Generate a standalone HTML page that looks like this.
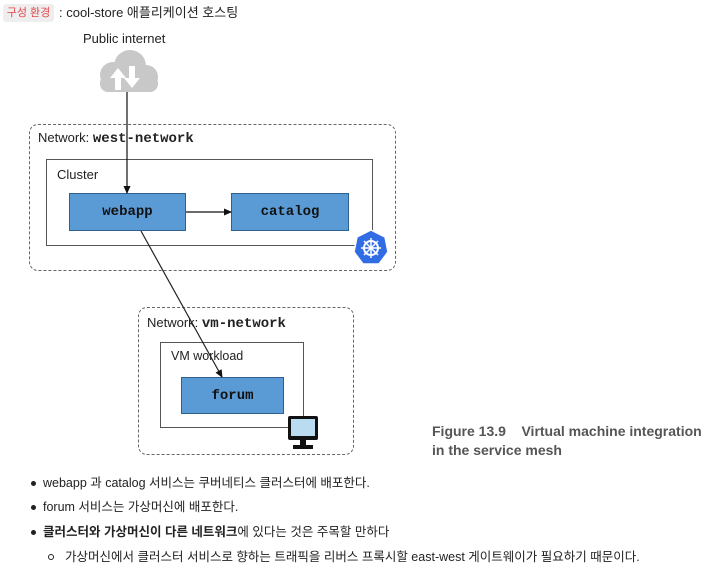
<!DOCTYPE html>
<html><head><meta charset="utf-8"><style>
body{margin:0;width:723px;height:586px;background:#fff;position:relative;overflow:hidden;font-family:"Liberation Sans","Noto Sans CJK KR",sans-serif;color:#222}
.a{position:absolute;white-space:nowrap}
.mono{font-family:"Liberation Mono",monospace;font-weight:bold}
.box{position:absolute;box-sizing:border-box}
.blue{position:absolute;box-sizing:border-box;background:#5b9bd5;border:1.5px solid #2f5f8f;display:flex;align-items:center;justify-content:center;font-family:"Liberation Mono",monospace;font-weight:bold;font-size:14px;color:#111}
.dot{position:absolute;width:5px;height:5px;border-radius:50%;background:#222}
</style></head><body>
<div class="a" style="left:3px;top:4px;width:51px;height:18px;background:#eee;border-radius:3px;color:#e5484d;font-size:11px;line-height:18px;text-align:center">구성 환경</div>
<div class="a" style="left:59px;top:4px;font-size:13px;line-height:18px">: cool-store 애플리케이션 호스팅</div>
<div class="a" style="left:83px;top:31px;font-size:13px">Public internet</div>

<div class="box" style="left:29px;top:124px;width:367px;height:147px;border:1.5px dashed #666;border-radius:9px"></div>
<div class="a" style="left:38px;top:130px;font-size:13px">Network: <span class="mono" style="font-size:14px">west-network</span></div>
<div class="box" style="left:46px;top:159px;width:327px;height:87px;border:1.5px solid #555"></div>
<div class="a" style="left:57px;top:167px;font-size:13px">Cluster</div>
<div class="blue" style="left:69px;top:193px;width:117px;height:38px">webapp</div>
<div class="blue" style="left:231px;top:193px;width:118px;height:38px">catalog</div>

<div class="box" style="left:138px;top:307px;width:216px;height:148px;border:1.5px dashed #666;border-radius:9px"></div>
<div class="a" style="left:147px;top:315px;font-size:13px">Network: <span class="mono" style="font-size:14px">vm-network</span></div>
<div class="box" style="left:160px;top:342px;width:144px;height:86px;border:1.5px solid #555"></div>
<div class="a" style="left:171px;top:349px;font-size:12.5px">VM workload</div>
<div class="blue" style="left:181px;top:377px;width:103px;height:37px">forum</div>

<svg class="a" style="left:0;top:0" width="723" height="470">
<defs><marker id="m" markerWidth="8" markerHeight="8" refX="7" refY="4" orient="auto" markerUnits="userSpaceOnUse"><path d="M0,0.5 L8,4 L0,7.5z" fill="#111"/></marker></defs>
<g fill="#c8c8c8"><circle cx="113" cy="75" r="13"/><circle cx="130" cy="66" r="16"/><circle cx="146" cy="77" r="12"/><rect x="100" y="75" width="58" height="17" rx="8"/></g>
<path d="M115,90 v-12 h-5 l8,-10 l8,10 h-5 v12z" fill="#fff"/>
<path d="M129,66 v12 h-5 l8,10 l8,-10 h-5 v-12z" fill="#fff"/>
<line x1="127" y1="92" x2="127" y2="193" stroke="#111" stroke-width="1.2" marker-end="url(#m)"/>
<line x1="186" y1="212" x2="231" y2="212" stroke="#111" stroke-width="1.2" marker-end="url(#m)"/>
<line x1="141" y1="231" x2="222" y2="377" stroke="#222" stroke-width="1.2" marker-end="url(#m)"/>
<polygon points="371,230 385,237 388,252 379,264 363,264 354,252 357,237" fill="#326ce5" stroke="#fff" stroke-width="1.5"/>
<circle cx="371" cy="248" r="7" fill="none" stroke="#fff" stroke-width="2"/>
<g stroke="#fff" stroke-width="1.5"><line x1="371" y1="238" x2="371" y2="258"/><line x1="361" y1="248" x2="381" y2="248"/><line x1="364" y1="241" x2="378" y2="255"/><line x1="378" y1="241" x2="364" y2="255"/></g>
<rect x="288" y="416" width="30" height="24" rx="2" fill="#111"/>
<rect x="291" y="419" width="24" height="17" fill="#b9dcf0"/>
<rect x="300" y="440" width="6" height="5" fill="#111"/>
<rect x="293" y="445" width="20" height="4" fill="#111"/>
</svg>

<div class="a" style="left:432px;top:422px;font-size:14px;font-weight:bold;color:#555;line-height:19px;font-family:'Liberation Sans',sans-serif">Figure 13.9&nbsp;&nbsp;&nbsp; Virtual machine integration<br>in the service mesh</div>

<div class="dot" style="left:31px;top:481px"></div>
<div class="a" style="left:43px;top:474px;font-size:12.5px;line-height:18px">webapp 과 catalog 서비스는 쿠버네티스 클러스터에 배포한다.</div>
<div class="dot" style="left:31px;top:505px"></div>
<div class="a" style="left:43px;top:498px;font-size:12.5px;line-height:18px">forum 서비스는 가상머신에 배포한다.</div>
<div class="dot" style="left:31px;top:530px"></div>
<div class="a" style="left:43px;top:523px;font-size:12.5px;line-height:18px"><b>클러스터와 가상머신이 다른 네트워크</b>에 있다는 것은 주목할 만하다</div>
<div class="a" style="left:48px;top:554px;width:4px;height:4px;border:1px solid #222;border-radius:50%"></div>
<div class="a" style="left:65px;top:548px;font-size:12.5px;line-height:18px">가상머신에서 클러스터 서비스로 향하는 트래픽을 리버스 프록시할 east-west 게이트웨이가 필요하기 때문이다.</div>
</body></html>
